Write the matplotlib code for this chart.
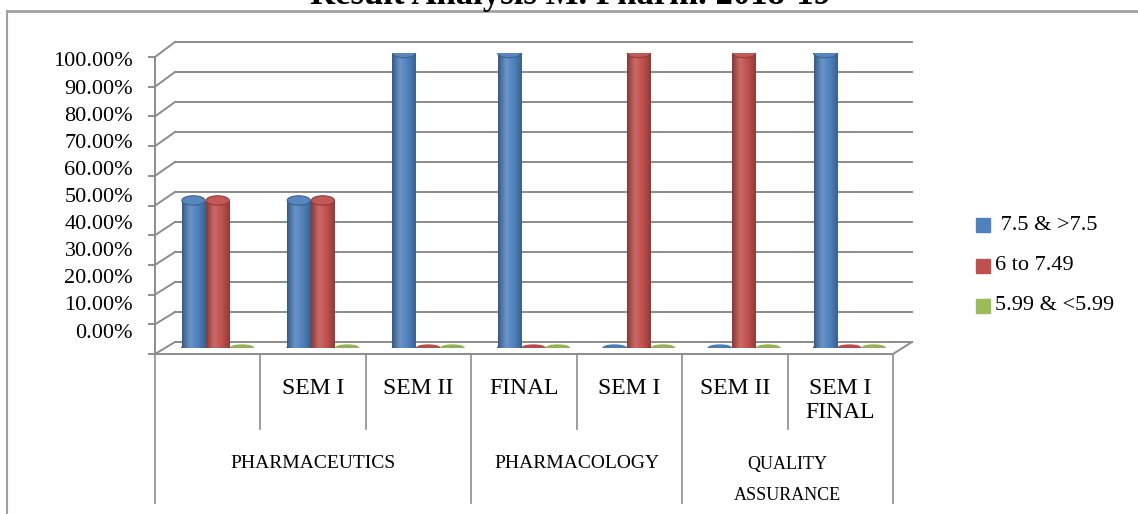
import matplotlib
matplotlib.use("Agg")
import matplotlib.pyplot as plt
import numpy as np
from matplotlib.colors import LinearSegmentedColormap, to_rgb
from matplotlib.patches import Ellipse, Rectangle

plt.rcParams["font.family"] = ["Liberation Serif", "DejaVu Serif"]

# data
sub_labels = ["", "SEM I", "SEM II", "FINAL", "SEM I", "SEM II", "SEM I\nFINAL"]
groups = ["PHARMACEUTICS", "PHARMACOLOGY", "QUALITY\nASSURANCE"]
group_sizes = [3, 2, 2]
legend_labels = [" 7.5 & >7.5", "6 to 7.49", "5.99 & <5.99"]
top_grade = [0.5, 0.5, 1.0, 1.0, 0.0, 0.0, 1.0]
mid_grade = [0.5, 0.5, 0.0, 0.0, 1.0, 1.0, 0.0]
low_grade = [0.0, 0.0, 0.0, 0.0, 0.0, 0.0, 0.0]
ticks = np.arange(0, 1.01, 0.1)
colors = ["#4F81BD", "#C0504D", "#9BBB59"]

W, H = 1138, 514
fig = plt.figure(figsize=(W / 100, H / 100), dpi=100)

# overlay in pixel coordinates for the chart frame and 3D decoration
ov = fig.add_axes([0, 0, 1, 1])
ov.set_xlim(0, W)
ov.set_ylim(H, 0)
ov.axis("off")

grey = "#8C8C8C"
ov.plot([7, W], [11, 11], color="#A0A0A0", lw=2)
ov.plot([7, 7], [11, H], color="#A0A0A0", lw=1.5)
ov.text(571, 4, "Result Analysis M. Pharm. 2018-19", ha="center", va="baseline",
        fontsize=25, fontweight="bold")

# 3D box: front plane x 155..893, y 354..57 ; back plane x 175..912, y 342..42
fx0, fx1, fy0, fy1 = 155, 893, 354, 57
bx0, bx1, by0, by1 = 175, 912, 342, 42
for t in ticks:
    yf = fy0 - t * (fy0 - fy1)
    yb = by0 - t * (by0 - by1)
    ov.plot([bx0, bx1], [yb, yb], color=grey, lw=1.4)
    ov.plot([fx0, bx0], [yf, yb], color=grey, lw=1.4)
    ov.plot([fx0 - 6, fx0], [yf, yf], color=grey, lw=1.4)
    ov.text(133, 333 - t * 271, f"{t * 100:.2f}%", ha="right", va="center", fontsize=16)
ov.plot([fx0, fx0], [fy0, fy1], color=grey, lw=1.4)
ov.plot([fx0, fx1], [fy0, fy0], color=grey, lw=1.4)
ov.plot([fx1, bx1], [fy0, by0], color=grey, lw=1.4)

# category axis below the floor
cw = (fx1 - fx0) / len(sub_labels)
for i, lab in enumerate(sub_labels):
    for j, line in enumerate(lab.split("\n")):
        ov.text(fx0 + (i + 0.5) * cw, 389 + j * 24, line, ha="center", va="center",
                fontsize=17)
bounds = np.cumsum([0] + group_sizes)
for i in range(1, len(sub_labels)):
    if i not in bounds:
        ov.plot([fx0 + i * cw, fx0 + i * cw], [fy0, 429], color=grey, lw=1.2)
for b in bounds:
    ov.plot([fx0 + b * cw, fx0 + b * cw], [fy0, 503], color=grey, lw=1.2)
for g, a, b in zip(groups, bounds[:-1], bounds[1:]):
    cx = fx0 + (a + b) / 2 * cw
    lines = g.split("\n")
    if len(lines) > 1:
        ov.text(cx, 465, lines[0], ha="center", va="center", fontsize=13)
        ov.text(cx, 495, lines[1], ha="center", va="center", fontsize=13)
    else:
        ov.text(cx, 464, g, ha="center", va="center", fontsize=14)

# legend
for k, (lab, c) in enumerate(zip(legend_labels, colors)):
    ly = [225, 266, 306][k]
    ov.add_patch(Rectangle((976, ly - 7), 14, 14, color=c))
    ov.text(995, ly, lab, ha="left", va="center", fontsize=16)

# bar plane (midway between front and back)
ax = fig.add_axes([165 / W, (H - 348) / H, 737 / W, 295 / H])
ax.axis("off")
ax.patch.set_alpha(0)
x = np.arange(len(sub_labels))
bw = 0.22
eh = 0.032


def shade(c, f):
    r = np.array(to_rgb(c))
    return tuple(np.clip(r * f if f < 1 else r + (1 - r) * (f - 1), 0, 1))


for s, (vals, c) in enumerate(zip([top_grade, mid_grade, low_grade], colors)):
    cmap = LinearSegmentedColormap.from_list(
        "cyl", [shade(c, 0.7), shade(c, 1.15), shade(c, 1.0), shade(c, 0.75)])
    for xi, v in zip(x + (s - 1) * 0.23, vals):
        if v <= 0:
            ax.add_patch(Ellipse((xi, 0), bw, 0.02, color=shade(c, 0.95), zorder=2))
            continue
        ax.add_patch(Ellipse((xi, 0), bw, eh, color=shade(c, 0.8), zorder=2))
        rect = ax.bar(xi, v, width=bw, color=c, zorder=3)[0]
        img = ax.imshow(np.linspace(0, 1, 64).reshape(1, -1), cmap=cmap, aspect="auto",
                        extent=(xi - bw / 2, xi + bw / 2, 0, v), zorder=3.5)
        img.set_clip_path(rect)
        ax.add_patch(Ellipse((xi, v), bw, eh, facecolor=shade(c, 1.05),
                             edgecolor=shade(c, 0.75), lw=0.8, zorder=4))

ax.set_xlim(-0.5, len(sub_labels) - 0.5)
ax.set_ylim(0, 1)

fig.savefig("out.png", dpi=100)
